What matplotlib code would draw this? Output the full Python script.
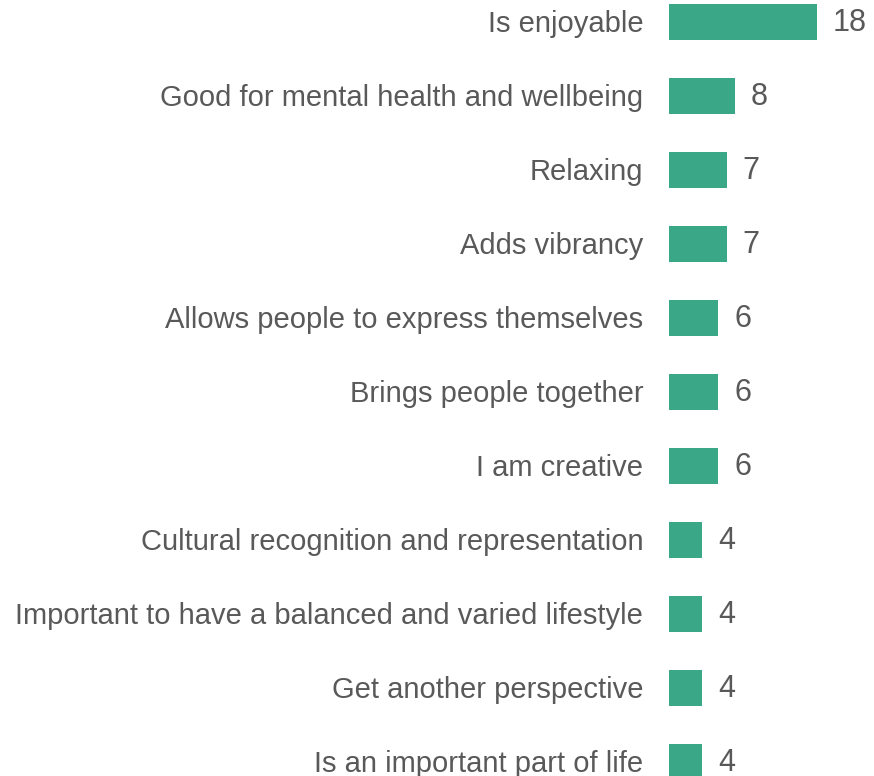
import matplotlib.pyplot as plt

categories = [
    "Is enjoyable",
    "Good for mental health and wellbeing",
    "Relaxing",
    "Adds vibrancy",
    "Allows people to express themselves",
    "Brings people together",
    "I am creative",
    "Cultural recognition and representation",
    "Important to have a balanced and varied lifestyle",
    "Get another perspective",
    "Is an important part of life",
]
counts = [18, 8, 7, 7, 6, 6, 6, 4, 4, 4, 4]

bar_color = "#3AA887"
text_color = "#595959"
plt.rcParams['font.family'] = ['Liberation Sans', 'DejaVu Sans']

fig = plt.figure(figsize=(8.74, 7.76), dpi=100)
# axes starts where the bars start; labels sit outside on the left
ax = fig.add_axes([669 / 874, 0, 1 - 669 / 874, 1])

pos = list(range(len(categories)))
ax.barh(pos, counts, height=0.49, color=bar_color)

ax.set_yticks([])
ax.set_xticks([])
ax.set_xlim(0, (874 - 669) / 8.22)
ax.set_ylim((776 - 22) / 74, -22 / 74)

# category labels, right aligned just left of the bars
for i, name in enumerate(categories):
    ax.annotate(name, (0, i), xytext=(-18.5, -1.5), textcoords='offset points',
                va='center', ha='right', fontsize=21, color=text_color,
                annotation_clip=False)

for i, v in enumerate(counts):
    ax.annotate(str(v), (v, i), xytext=(11.5, -0.5), textcoords='offset points',
                va='center', ha='left', fontsize=22, color=text_color)

for s in ax.spines.values():
    s.set_visible(False)

fig.savefig("out.png", dpi=100)
